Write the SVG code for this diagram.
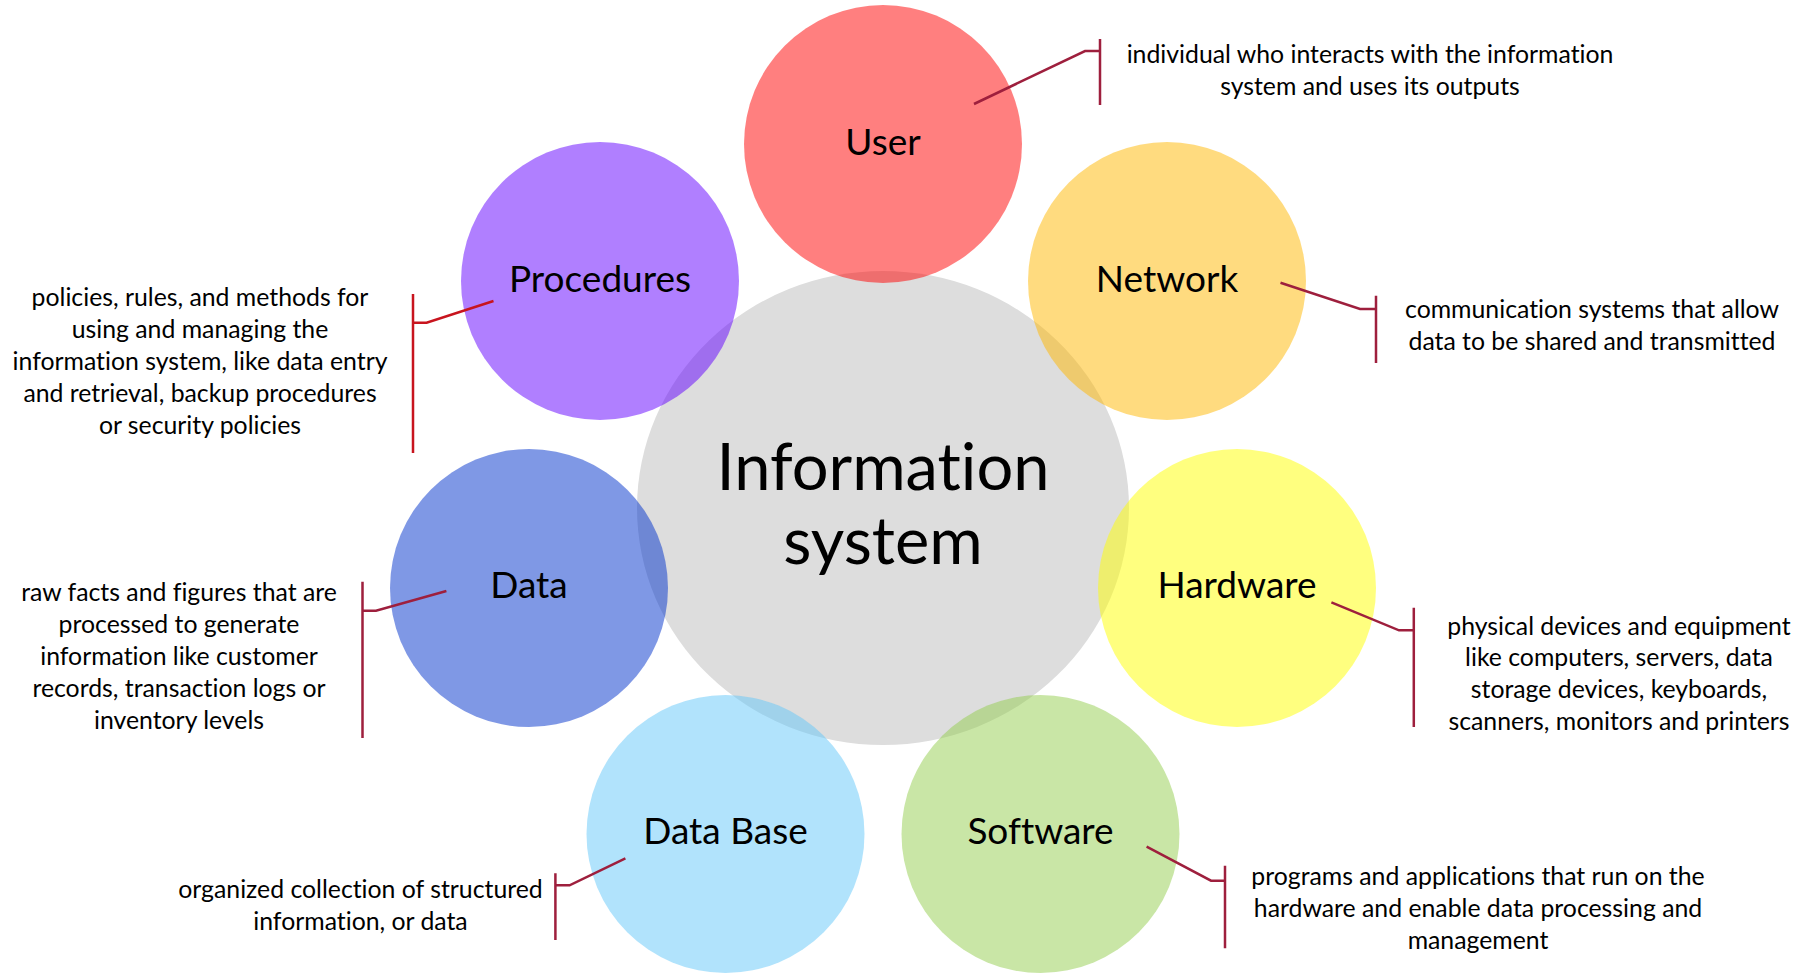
<svg xmlns="http://www.w3.org/2000/svg" width="1810" height="973" viewBox="0 0 1810 973">
<style>
text{font-variant-ligatures:none;font-feature-settings:"liga" 0}
.sat{fill-opacity:0.5}
.lbl{font-family:Lato,"Liberation Sans",sans-serif;font-size:37px;fill:#000;text-anchor:middle}
.desc{font-family:Lato,"Liberation Sans",sans-serif;font-size:24.8px;fill:#000;text-anchor:middle}
.main{font-family:Lato,"Liberation Sans",sans-serif;font-size:65px;fill:#000;text-anchor:middle}
.con{fill:none;stroke:#9e1f3d;stroke-width:2.5;stroke-linejoin:miter}
.con2{fill:none;stroke:#c8141e;stroke-width:2.5}
</style>
<rect width="1810" height="973" fill="#fff"/>
<g id="center">
<ellipse cx="883" cy="508" rx="246" ry="237" fill="#dddddd"/>
<text class="main" x="883" y="490">Information</text>
<text class="main" x="883" y="564">system</text>
</g>
<g id="user">
<circle class="sat" cx="883" cy="144" r="139" fill="#ff0000"/>
<text class="lbl" x="883" y="155">User</text>
<text class="desc" x="1370" y="63">individual who interacts with the information</text>
<text class="desc" x="1370" y="95">system and uses its outputs</text>
</g>
<g id="procedures">
<circle class="sat" cx="600" cy="281" r="139" fill="#6100ff"/>
<text class="lbl" x="600" y="292">Procedures</text>
<text class="desc" x="200" y="306">policies, rules, and methods for</text>
<text class="desc" x="200" y="338">using and managing the</text>
<text class="desc" x="200" y="370">information system, like data entry</text>
<text class="desc" x="200" y="402">and retrieval, backup procedures</text>
<text class="desc" x="200" y="434">or security policies</text>
</g>
<g id="network">
<circle class="sat" cx="1167" cy="281" r="139" fill="#ffb700"/>
<text class="lbl" x="1167" y="292">Network</text>
<text class="desc" x="1592" y="318">communication systems that allow</text>
<text class="desc" x="1592" y="350">data to be shared and transmitted</text>
</g>
<g id="data">
<circle class="sat" cx="529" cy="588" r="139" fill="#0032cb"/>
<text class="lbl" x="529" y="598">Data</text>
<text class="desc" x="179" y="601">raw facts and figures that are</text>
<text class="desc" x="179" y="633">processed to generate</text>
<text class="desc" x="179" y="665">information like customer</text>
<text class="desc" x="179" y="697">records, transaction logs or</text>
<text class="desc" x="179" y="729">inventory levels</text>
</g>
<g id="hardware">
<circle class="sat" cx="1237" cy="588" r="139" fill="#ffff00"/>
<text class="lbl" x="1237" y="598">Hardware</text>
<text class="desc" x="1619" y="635">physical devices and equipment</text>
<text class="desc" x="1619" y="666">like computers, servers, data</text>
<text class="desc" x="1619" y="698">storage devices, keyboards,</text>
<text class="desc" x="1619" y="730">scanners, monitors and printers</text>
</g>
<g id="database">
<circle class="sat" cx="725.5" cy="834" r="139" fill="#63c7f9"/>
<text class="lbl" x="725.5" y="844">Data Base</text>
<text class="desc" x="360.5" y="898">organized collection of structured</text>
<text class="desc" x="360.5" y="930">information, or data</text>
</g>
<g id="software">
<circle class="sat" cx="1040.5" cy="834" r="139" fill="#93cd4d"/>
<text class="lbl" x="1040.5" y="844">Software</text>
<text class="desc" x="1478" y="885">programs and applications that run on the</text>
<text class="desc" x="1478" y="917">hardware and enable data processing and</text>
<text class="desc" x="1478" y="949">management</text>
</g>
<g id="connectors">
<path class="con" d="M974 104 L1085 51 L1100 51 M1100 39 L1100 105"/>
<path class="con2" d="M493.5 301 L426.6 322.7 L413 322.7 M413 294 L413 453"/>
<path class="con" d="M1280.5 282.7 L1360 309 L1376 309 M1376 295.7 L1376 363"/>
<path class="con" d="M446.4 591 L376 610.7 L362.5 610.7 M362.5 581.7 L362.5 738"/>
<path class="con" d="M1331.4 602.3 L1399 630.3 L1413.8 630.3 M1413.8 607.7 L1413.8 727"/>
<path class="con" d="M625.4 858.3 L569.6 885.3 L555.4 885.3 M555.4 873.3 L555.4 940"/>
<path class="con" d="M1146.6 846.7 L1211 880.7 L1225 880.7 M1225 865.7 L1225 948.3"/>
</g>
</svg>
